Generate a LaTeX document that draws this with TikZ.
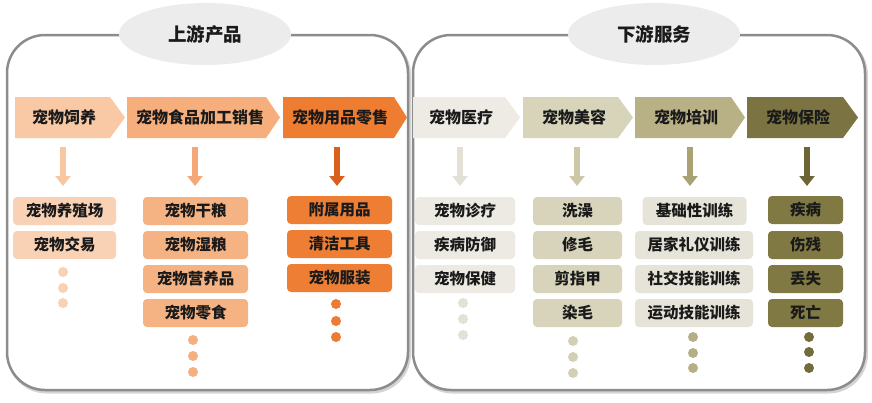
\documentclass[tikz,border=0pt]{standalone}
\usepackage{fontspec}
\setmainfont{Noto Sans CJK SC}
\usetikzlibrary{arrows.meta,shapes.geometric}
\definecolor{panelline}{HTML}{8C8C8C}
\definecolor{panelshadow}{HTML}{D4D4D4}
\definecolor{ellfill}{HTML}{ECECEC}
\definecolor{txt}{HTML}{1A1A1A}
% column colours: chevron, item, arrow, dots
\definecolor{chA}{HTML}{F9C9A6}\definecolor{itA}{HTML}{F9D2B5}\definecolor{arA}{HTML}{F8C6A1}\definecolor{dtA}{HTML}{F9D2B5}
\definecolor{chB}{HTML}{F5AE7C}\definecolor{itB}{HTML}{F5B283}\definecolor{arB}{HTML}{F4A877}\definecolor{dtB}{HTML}{F4B080}
\definecolor{chC}{HTML}{EE7D32}\definecolor{itC}{HTML}{EF7E35}\definecolor{arC}{HTML}{D8601C}\definecolor{dtC}{HTML}{EC7C33}
\definecolor{chD}{HTML}{EDEBE3}\definecolor{itD}{HTML}{ECEAE2}\definecolor{arD}{HTML}{E3E1D6}\definecolor{dtD}{HTML}{E3E1D6}
\definecolor{chE}{HTML}{D8D4BA}\definecolor{itE}{HTML}{D8D4BB}\definecolor{arE}{HTML}{CCC7A6}\definecolor{dtE}{HTML}{D3CFB3}
\definecolor{chF}{HTML}{B8B186}\definecolor{itF}{HTML}{E6E4D9}\definecolor{arF}{HTML}{A9A273}\definecolor{dtF}{HTML}{B5AF85}
\definecolor{chG}{HTML}{7B7341}\definecolor{itG}{HTML}{817944}\definecolor{arG}{HTML}{6D6535}\definecolor{dtG}{HTML}{746C3B}
\begin{document}
\begin{tikzpicture}[x=1pt,y=-1pt,
  panel/.style={draw=panelline, line width=2.5pt, rounded corners=38pt, fill=white},
  panelsh/.style={draw=panelshadow, line width=3pt, rounded corners=38pt},
  title/.style={ellipse, fill=ellfill, minimum width=172pt, minimum height=62pt, inner sep=0pt,
     font=\bfseries\fontsize{18.5}{20}\selectfont, text=txt},
  chevtext/.style={inner sep=0pt, font=\bfseries\fontsize{16}{18}\selectfont, text=txt},
  item/.style={rounded corners=4pt, minimum height=28pt, inner sep=0pt,
     font=\bfseries\fontsize{15.5}{17}\selectfont, text=txt},
  downarrow/.style={line width=5.5pt, -{Triangle[width=15pt,length=10pt]}},
  dotc/.style={circle, inner sep=0pt, minimum size=10pt}
]
\useasboundingbox (0,0) rectangle (872,402);

% panels (soft shadow, then frame)
\draw[panelsh] (8.5,37) rectangle (409.5,392);
\draw[panelsh] (414.5,37) rectangle (866.5,392);
\draw[panel] (7,35) rectangle (408,390);
\draw[panel] (413,35) rectangle (865,390);

% titles
\node[title] (t1) at (205,34) {上游产品};
\node[title] (t2) at (654,34) {下游服务};

% chevrons
\fill[chA] (15,97) -- (110,97) -- (125,117.5) -- (110,138) -- (15,138) -- cycle;
\node[chevtext] (h1) at (64,117.5) {宠物饲养};
\fill[chB] (127,97) -- (266,97) -- (280,117.5) -- (266,138) -- (127,138) -- cycle;
\node[chevtext] (h2) at (200,117.5) {宠物食品加工销售};
\fill[chC] (283,97) -- (394,97) -- (407,117.5) -- (394,138) -- (283,138) -- cycle;
\node[chevtext] (h3) at (340,117.5) {宠物用品零售};
\fill[chD] (413,97) -- (505,97) -- (520,117.5) -- (505,138) -- (413,138) -- cycle;
\node[chevtext] (h4) at (461,117.5) {宠物医疗};
\fill[chE] (523,97) -- (618,97) -- (633,117.5) -- (618,138) -- (523,138) -- cycle;
\node[chevtext] (h5) at (574,117.5) {宠物美容};
\fill[chF] (635,97) -- (731,97) -- (745,117.5) -- (731,138) -- (635,138) -- cycle;
\node[chevtext] (h6) at (686,117.5) {宠物培训};
\fill[chG] (747,97) -- (843,97) -- (858,117.5) -- (843,138) -- (747,138) -- cycle;
\node[chevtext] (h7) at (798,117.5) {宠物保险};

% arrows
\foreach \n/\x/\c in {1/63/arA,2/195/arB,3/337/arC,4/460/arD,5/577/arE,6/690/arF,7/807/arG}{
  \coordinate (as\n) at (\x,147);
  \coordinate (ae\n) at (\x,186);
  \draw[downarrow, draw=\c, fill=\c] (as\n) -- (ae\n);
}

% column 1
\node[item, fill=itA, minimum width=103pt] (i11) at (64.5,211) {宠物养殖场};
\node[item, fill=itA, minimum width=103pt] (i12) at (64.5,245) {宠物交易};
% column 2
\node[item, fill=itB, minimum width=105pt] (i21) at (195.5,211) {宠物干粮};
\node[item, fill=itB, minimum width=105pt] (i22) at (195.5,245) {宠物湿粮};
\node[item, fill=itB, minimum width=105pt] (i23) at (195.5,279) {宠物营养品};
\node[item, fill=itB, minimum width=105pt] (i24) at (195.5,313) {宠物零食};
% column 3
\node[item, fill=itC, minimum width=105pt] (i31) at (339.5,210) {附属用品};
\node[item, fill=itC, minimum width=105pt] (i32) at (339.5,244) {清洁工具};
\node[item, fill=itC, minimum width=105pt] (i33) at (339.5,278) {宠物服装};
% column 4
\node[item, fill=itD, minimum width=100pt] (i41) at (465,211) {宠物诊疗};
\node[item, fill=itD, minimum width=100pt] (i42) at (465,245) {疾病防御};
\node[item, fill=itD, minimum width=100pt] (i43) at (465,279) {宠物保健};
% column 5
\node[item, fill=itE, minimum width=89pt] (i51) at (577.5,211) {洗澡};
\node[item, fill=itE, minimum width=89pt] (i52) at (577.5,245) {修毛};
\node[item, fill=itE, minimum width=89pt] (i53) at (577.5,279) {剪指甲};
\node[item, fill=itE, minimum width=89pt] (i54) at (577.5,313) {染毛};
% column 6
\node[item, fill=itF, minimum width=104pt] (i61) at (694.5,211) {基础性训练};
\node[item, fill=itF, minimum width=118pt] (i62) at (694,245) {居家礼仪训练};
\node[item, fill=itF, minimum width=118pt] (i63) at (694,279) {社交技能训练};
\node[item, fill=itF, minimum width=118pt] (i64) at (694,313) {运动技能训练};
% column 7
\node[item, fill=itG, minimum width=75pt] (i71) at (805.5,210) {疾病};
\node[item, fill=itG, minimum width=75pt] (i72) at (805.5,245) {伤残};
\node[item, fill=itG, minimum width=75pt] (i73) at (805.5,279) {丢失};
\node[item, fill=itG, minimum width=75pt] (i74) at (805.5,313) {死亡};

% dots
\foreach \y [count=\k] in {272,288,303}{\node[dotc, fill=dtA] (d1\k) at (63,\y) {};}
\foreach \y [count=\k] in {340,356,372}{\node[dotc, fill=dtB] (d2\k) at (193,\y) {};}
\foreach \y [count=\k] in {304,321,337}{\node[dotc, fill=dtC] (d3\k) at (336,\y) {};}
\foreach \y [count=\k] in {303,319,335}{\node[dotc, fill=dtD] (d4\k) at (463,\y) {};}
\foreach \y [count=\k] in {341,357,373}{\node[dotc, fill=dtE] (d5\k) at (573,\y) {};}
\foreach \y [count=\k] in {337,353,368}{\node[dotc, fill=dtF] (d6\k) at (693,\y) {};}
\foreach \y [count=\k] in {337,352,368}{\node[dotc, fill=dtG] (d7\k) at (809,\y) {};}
\end{tikzpicture}
\end{document}
